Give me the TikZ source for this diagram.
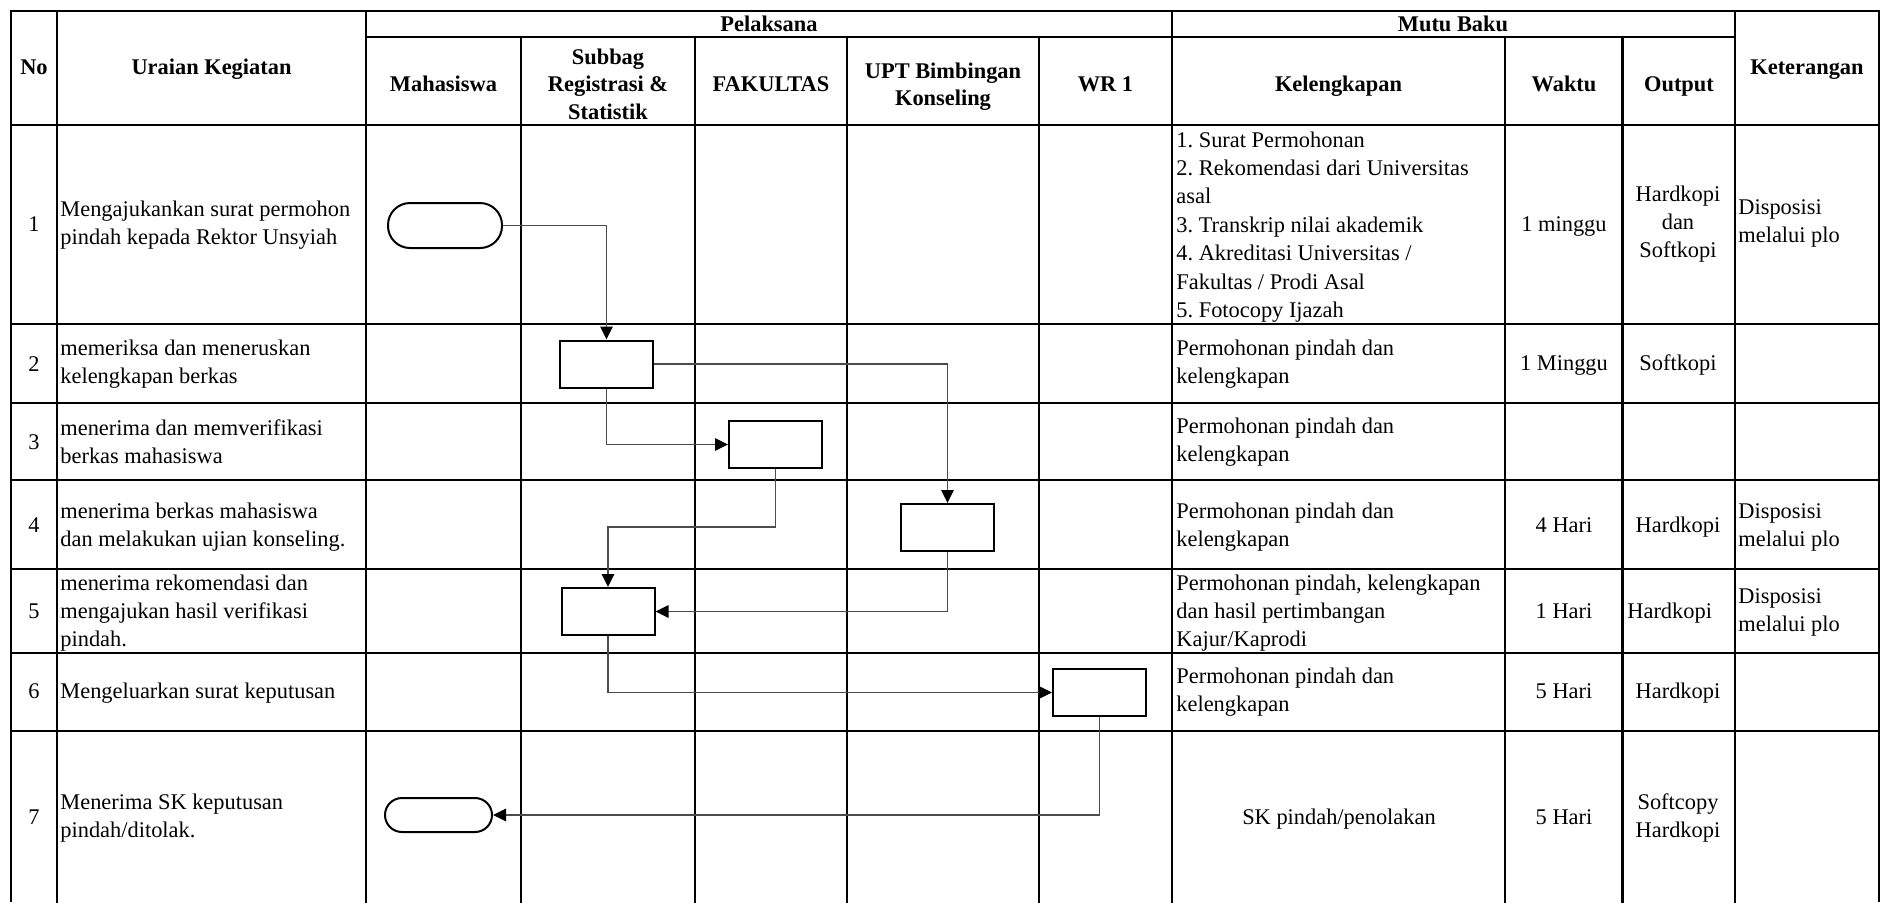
\documentclass[tikz,border=0pt]{standalone}
\usepackage{fontspec}
\setmainfont{Liberation Serif}
\usetikzlibrary{arrows.meta}
\frenchspacing
\tikzset{
  grid/.style={line width=1.4pt, line cap=rect},
  txt/.style={font=\fontsize{11.2}{14}\selectfont\frenchspacing, inner sep=0pt, align=left},
  ctxt/.style={font=\fontsize{11.2}{14}\selectfont\frenchspacing, inner sep=0pt, align=center},
  hd/.style={font=\fontsize{11.2}{13.8}\selectfont\bfseries, inner sep=0pt, align=center},
  one/.style={text height=7.8pt, text depth=2.6pt},
  term/.style={draw, line width=1pt, rounded corners=11pt, minimum width=57pt, minimum height=22.5pt, inner sep=0pt},
  box/.style={draw, line width=1pt, minimum width=46.5pt, minimum height=23.5pt, inner sep=0pt},
  conn/.style={draw=black!70, line width=0.6pt, -{Triangle[length=6.5pt,width=6.3pt,color=black]}}
}
\begin{document}
\begin{tikzpicture}[x=0.5pt,y=-0.5pt]
\useasboundingbox (0,0) rectangle (1881,902);
% ---- table grid ----
\draw[grid, line cap=butt] (11,902) -- (11,11) -- (1879,11) -- (1879,902);
\draw[grid] (366,37) -- (1735,37);
\foreach \yy in {125,324,403,480,569,653,731}
  \draw[grid] (11,\yy) -- (1879,\yy);
\foreach \xx in {57,366,1172,1735}
  \draw[grid] (\xx,11) -- (\xx,902);
\foreach \xx in {521,695,847,1039,1505,1622.5}
  \draw[grid] (\xx,37) -- (\xx,902);
% ---- header ----
\node[hd, one] (hNo) at (34,69.5) {No};
\node[hd, one] (hUr) at (211.5,69.5) {Uraian Kegiatan};
\node[hd, one] (hPel) at (769,26) {Pelaksana};
\node[hd, one] (hMut) at (1453,26) {Mutu Baku};
\node[hd, one] (hKet) at (1807,69.5) {Keterangan};
\node[hd, one] (hMah) at (443.5,86) {Mahasiswa};
\node[hd] (hSub) at (608,84) {Subbag\\Registrasi \&\\Statistik};
\node[hd, one] (hFak) at (771,86) {FAKULTAS};
\node[hd] (hUpt) at (943,86.5) {UPT Bimbingan\\Konseling};
\node[hd, one] (hWr) at (1105.5,86) {WR 1};
\node[hd, one] (hKel) at (1338.5,86) {Kelengkapan};
\node[hd, one] (hWak) at (1564,86) {Waktu};
\node[hd, one] (hOut) at (1679,86) {Output};
% ---- row 1 ----
\node[ctxt, one] (n1) at (34,226) {1};
\node[txt, anchor=west] (u1) at (60,225) {Mengajukankan surat permohon\\pindah kepada Rektor Unsyiah};
\node[txt, anchor=west, font=\fontsize{11.2}{14.2}\selectfont\frenchspacing] (k1) at (1176,227) {1. Surat Permohonan\\2. Rekomendasi dari Universitas\\asal\\3. Transkrip nilai akademik\\4. Akreditasi Universitas /\\Fakultas / Prodi Asal\\5. Fotocopy Ijazah};
\node[ctxt, one] (w1) at (1564,226) {1 minggu};
\node[ctxt] (o1) at (1678,224) {Hardkopi\\dan\\Softkopi};
\node[txt, anchor=west] (e1) at (1738,223) {Disposisi\\melalui plo};
% ---- row 2 ----
\node[ctxt, one] (n2) at (34,366) {2};
\node[txt, anchor=west] (u2) at (60,364) {memeriksa dan meneruskan\\kelengkapan berkas};
\node[txt, anchor=west] (k2) at (1176,364) {Permohonan pindah dan\\kelengkapan};
\node[ctxt, one] (w2) at (1564,365) {1 Minggu};
\node[ctxt, one] (o2) at (1678,365) {Softkopi};
% ---- row 3 ----
\node[ctxt, one] (n3) at (34,444) {3};
\node[txt, anchor=west] (u3) at (60,442) {menerima dan memverifikasi\\berkas mahasiswa};
\node[txt, anchor=west] (k3) at (1176,442) {Permohonan pindah dan\\kelengkapan};
% ---- row 4 ----
\node[ctxt, one] (n4) at (34,527) {4};
\node[txt, anchor=west] (u4) at (60,527) {menerima berkas mahasiswa\\dan melakukan ujian konseling.};
\node[txt, anchor=west] (k4) at (1176,527) {Permohonan pindah dan\\kelengkapan};
\node[ctxt, one] (w4) at (1564,527) {4 Hari};
\node[ctxt, one] (o4) at (1678,527) {Hardkopi};
\node[txt, anchor=west] (e4) at (1738,527) {Disposisi\\melalui plo};
% ---- row 5 ----
\node[ctxt, one] (n5) at (34,613) {5};
\node[txt, anchor=west] (u5) at (60,613) {menerima rekomendasi dan\\mengajukan hasil verifikasi\\pindah.};
\node[txt, anchor=west] (k5) at (1176,613) {Permohonan pindah, kelengkapan\\dan hasil pertimbangan\\Kajur/Kaprodi};
\node[ctxt, one] (w5) at (1564,613) {1 Hari};
\node[txt, one, anchor=west] (o5) at (1627,613) {Hardkopi};
\node[txt, anchor=west] (e5) at (1738,612) {Disposisi\\melalui plo};
% ---- row 6 ----
\node[ctxt, one] (n6) at (34,693) {6};
\node[txt, one, anchor=west] (u6) at (60,693) {Mengeluarkan surat keputusan};
\node[txt, anchor=west] (k6) at (1176,692) {Permohonan pindah dan\\kelengkapan};
\node[ctxt, one] (w6) at (1564,693) {5 Hari};
\node[ctxt, one] (o6) at (1678,693) {Hardkopi};
% ---- row 7 ----
\node[ctxt, one] (n7) at (34,819) {7};
\node[txt, anchor=west] (u7) at (60,818) {Menerima SK keputusan\\pindah/ditolak.};
\node[ctxt, one] (k7) at (1339,819) {SK pindah/penolakan};
\node[ctxt, one] (w7) at (1564,819) {5 Hari};
\node[ctxt] (o7) at (1678,818) {Softcopy\\Hardkopi};
% ---- flow shapes ----
\node[term] (t1) at (445,225.5) {};
\node[box] (b2) at (606.5,364) {};
\node[box] (b3) at (775.5,444.5) {};
\node[box] (b4) at (947.5,527.5) {};
\node[box] (b5) at (608,611.5) {};
\node[box] (b6) at (1099.5,692.5) {};
\node[term, minimum width=53.5pt, minimum height=17pt, rounded corners=8.5pt] (t7) at (438.5,815) {};
\coordinate (k35) at (700,527);
% ---- connectors ----
\draw[conn] (t1.east) -| (b2.north);
\draw[conn] (b2.east) -| (b4.north);
\draw[conn] (b2.south) |- (b3.west);
\draw[conn] (b3.south) |- (k35) -| (b5.north);
\draw[conn] (b4.south) |- (b5.east);
\draw[conn] (b5.south) |- (b6.west);
\draw[conn] (b6.south) |- (t7.east);
\end{tikzpicture}
\end{document}
